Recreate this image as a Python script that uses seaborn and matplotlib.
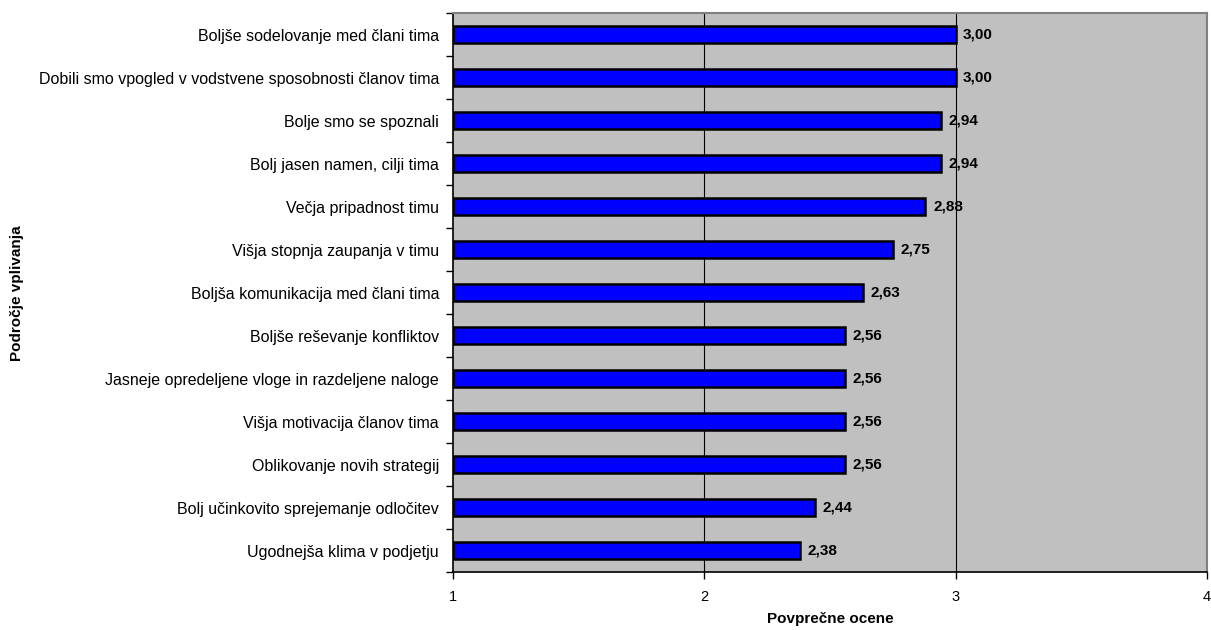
import matplotlib.pyplot as plt
import pandas as pd
import seaborn as sns

categories = [
    "Boljše sodelovanje med člani tima",
    "Dobili smo vpogled v vodstvene sposobnosti članov tima",
    "Bolje smo se spoznali",
    "Bolj jasen namen, cilji tima",
    "Večja pripadnost timu",
    "Višja stopnja zaupanja v timu",
    "Boljša komunikacija med člani tima",
    "Boljše reševanje konfliktov",
    "Jasneje opredeljene vloge in razdeljene naloge",
    "Višja motivacija članov tima",
    "Oblikovanje novih strategij",
    "Bolj učinkovito sprejemanje odločitev",
    "Ugodnejša klima v podjetju",
]
scores = [3.00, 3.00, 2.94, 2.94, 2.88, 2.75, 2.63, 2.56, 2.56, 2.56, 2.56, 2.44, 2.38]
x_ticks = [1, 2, 3, 4]

df = pd.DataFrame({"area": categories, "score": scores})

sns.set_theme(style="white")
plt.rcParams["font.family"] = ["Liberation Sans", "DejaVu Sans"]
plt.rcParams["text.color"] = "black"
plt.rcParams["xtick.color"] = "black"
plt.rcParams["ytick.color"] = "black"
plt.rcParams["axes.labelcolor"] = "black"

fig = plt.figure(figsize=(12.11, 6.3), dpi=100)
ax = fig.add_axes([0.374, 0.092, 0.6227, 0.887])
ax.set_facecolor("#c0c0c0")

# bars start at 1 (axis minimum), so draw relative lengths from left=1
sns.barplot(data=df, y="area", x="score", orient="h", color="#0000ff",
            edgecolor="black", linewidth=1.8, width=0.4, saturation=1, ax=ax)
for patch in ax.patches:
    patch.set_x(1)
    patch.set_width(patch.get_width() - 1)

ax.set_xlim(1, 4)
ax.set_ylim(len(categories) - 0.5, -0.5)
ax.set_xticks(x_ticks)
ax.set_xticklabels([str(t) for t in x_ticks], fontsize=10.5)
for t in x_ticks[1:-1]:
    ax.axvline(t, color="black", linewidth=0.8, zorder=0.5)

ax.set_yticks(range(len(categories)))
ax.set_yticklabels(categories, fontsize=11.5)
ax.tick_params(axis="y", which="major", left=True, length=0, pad=10)
# minor ticks at category boundaries
ax.set_yticks([i - 0.5 for i in range(len(categories) + 1)], minor=True)
ax.tick_params(axis="y", which="minor", left=True, length=5, width=1,
               color="black", direction="out")
ax.tick_params(axis="x", bottom=True, length=5, width=1, color="black",
               direction="out", pad=8)

for i, v in enumerate(scores):
    ax.text(v + 0.03, i, f"{v:.2f}".replace(".", ","), va="center", ha="left",
            fontsize=11, fontweight="bold", color="black")

for side in ["top", "right"]:
    ax.spines[side].set_color("#808080")
    ax.spines[side].set_linewidth(1.5)
for side in ["left", "bottom"]:
    ax.spines[side].set_color("black")
    ax.spines[side].set_linewidth(1.2)

ax.set_xlabel("Povprečne ocene", fontsize=11, fontweight="bold", labelpad=6)
ax.set_ylabel("")
fig.text(0.014, 0.535, "Področje vplivanja", rotation=90, va="center", ha="center",
         fontsize=11, fontweight="bold")

fig.savefig("out.png", dpi=100, facecolor="white")
